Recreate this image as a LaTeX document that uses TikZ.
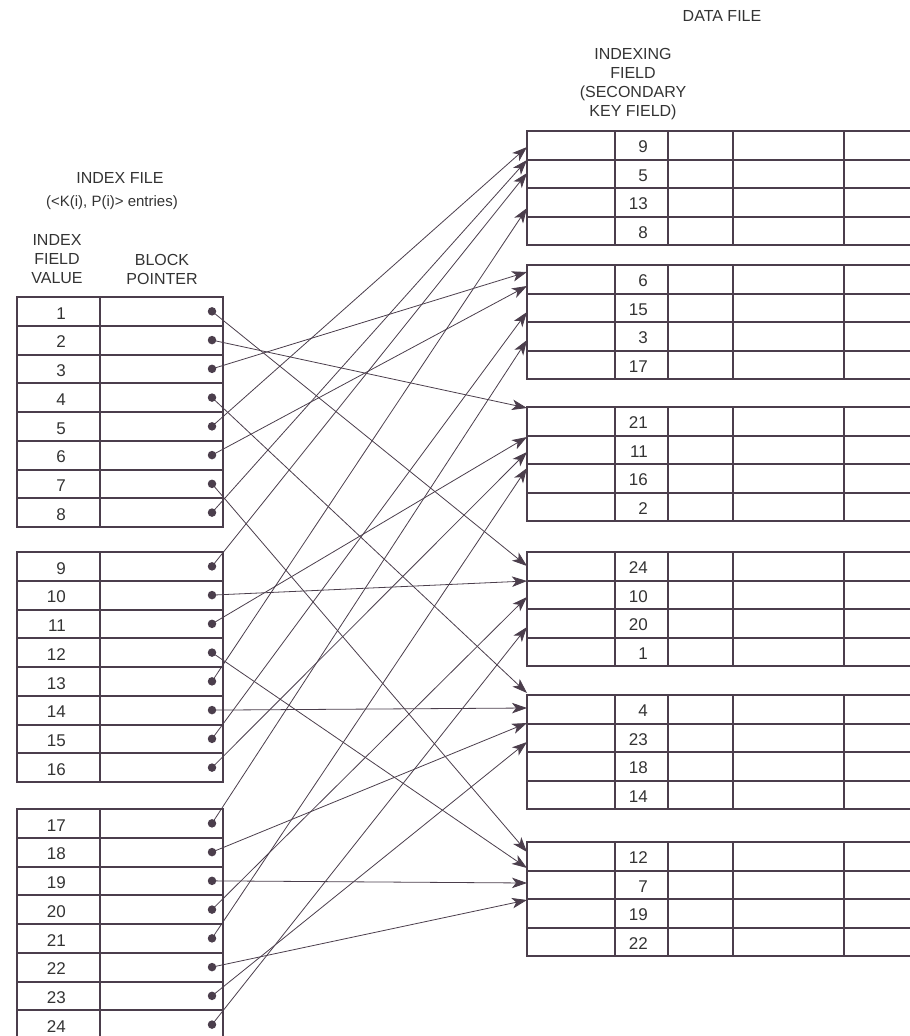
\documentclass[tikz,border=0pt]{standalone}
\usepackage{fontspec}
\setmainfont{Liberation Sans}
\usepackage{xcolor}
\usetikzlibrary{arrows.meta}
\definecolor{inkpurple}{HTML}{4B3E4C}
\definecolor{inktext}{HTML}{333333}
\tikzset{
  tabline/.style={draw=inkpurple,line width=1.4pt},
  keynum/.style={anchor=east,inner sep=0pt,text=inktext,font=\fontsize{17}{20}\selectfont},
  ptrdot/.style={circle,fill=inkpurple,minimum size=8.5pt,inner sep=0pt},
  hdrtext/.style={align=center,inner sep=0pt,text=inktext,font=\fontsize{16}{19}\selectfont},
  ptrarrow/.style={-{Stealth[length=15pt,width=10.5pt,inset=4pt]},inkpurple,line width=0.8pt},
}
\begin{document}
\begin{tikzpicture}[x=1pt,y=-1pt]
  \useasboundingbox (0,0) rectangle (910,1036);
  \node[hdrtext] (hData) at (722,16) {DATA FILE};
  \node[hdrtext] (hField) at (633,84) {INDEXING\\FIELD\\(SECONDARY\\KEY FIELD)};
  \node[hdrtext] (hIndex) at (120,178) {INDEX FILE};
  \node[hdrtext,font=\fontsize{15}{18}\selectfont] (hEntries) at (112,203) {(<K(i), P(i)> entries)};
  \node[hdrtext] (hValue) at (57,259) {INDEX\\FIELD\\VALUE};
  \node[hdrtext] (hPtr) at (162,269.5) {BLOCK\\POINTER};
  % index file
  \foreach \b/\top in {0/297,1/552,2/809}{
    \draw[tabline] (17,\top) rectangle (223,\top+230);
    \draw[tabline] (100,\top) -- (100,\top+230);
    \foreach \r in {1,...,7}{
      \pgfmathsetmacro\ly{round(\top+28.75*\r)}
      \draw[tabline] (17,\ly) -- (223,\ly);
    }
    \foreach \r in {1,...,8}{
      \pgfmathtruncatemacro\k{8*\b+\r}
      \node[keynum] (n\k) at (66,\top+28.75*\r-12.5) {\k};
      \node[ptrdot] (p\k) at (212,\top+28.75*\r-14.4) {};
    }
  }
  % data file
  \foreach \top/\ka/\kb/\kc/\kd in {131/9/5/13/8,265/6/15/3/17,407/21/11/16/2,
      552/24/10/20/1,695/4/23/18/14,842/12/7/19/22}{
    \draw[tabline] (912,\top) -- (527,\top) -- (527,\top+114) -- (912,\top+114);
    \foreach \cx in {615,668,733,844}
      \draw[tabline] (\cx,\top) -- (\cx,\top+114);
    \foreach \r in {1,2,3}{
      \pgfmathsetmacro\ly{round(\top+28.5*\r)}
      \draw[tabline] (527,\ly) -- (912,\ly);
    }
    \foreach \key [count=\r] in {\ka,\kb,\kc,\kd}
      \node[keynum] (r\key) at (648,\top+28.5*\r-12.5) {\key};
  }
  \foreach \k/\ty in {5/147,8/160,9/173,13/208,3/272,6/286,15/312,17/340,
      2/408,11/437,16/452,21/468,1/566,10/581,20/597,24/627,
      4/693,14/708,18/723,23/742,7/852,12/868,19/883,22/900}
    \coordinate (t\k) at (527,\ty);
  \foreach \k in {1,...,24}
    \draw[ptrarrow] (p\k.center) -- (t\k);
\end{tikzpicture}
\end{document}
